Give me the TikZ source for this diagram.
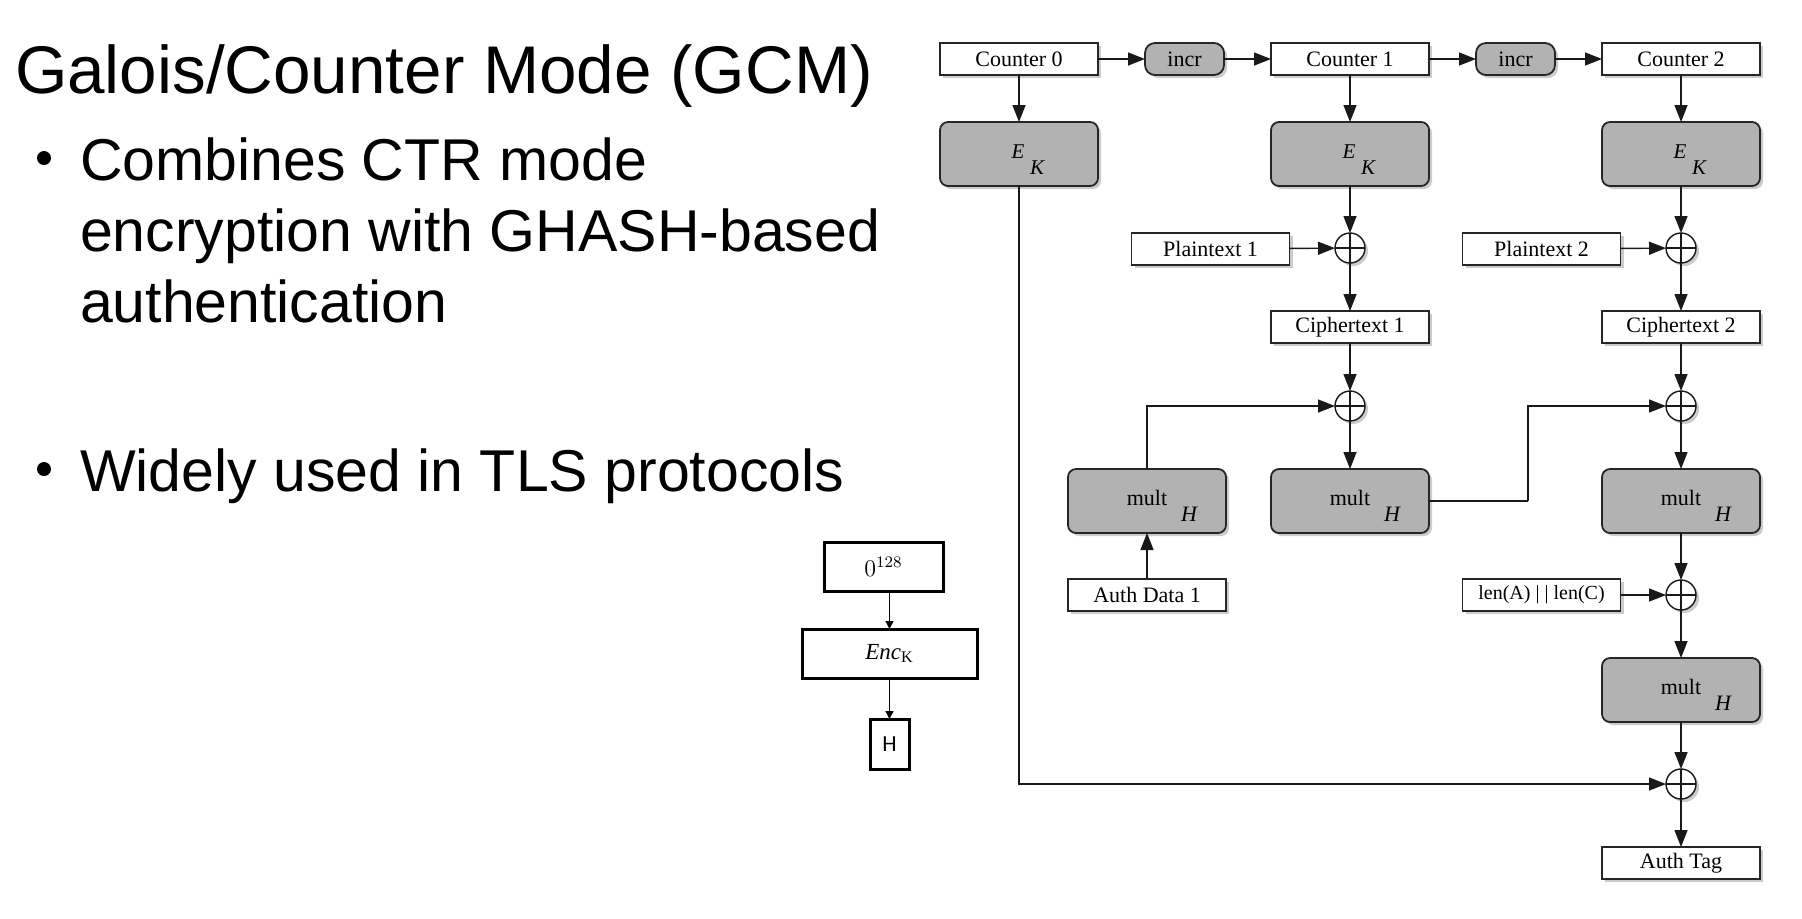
\documentclass[tikz,border=0pt]{standalone}
\usepackage{fontspec}
\setmainfont{Liberation Serif}
\newfontfamily\arialfont{Liberation Sans}
\newfontfamily\calfont{Carlito}
\usetikzlibrary{arrows.meta,shadows,calc}
\begin{document}
\begin{tikzpicture}[x=0.5pt,y=-0.5pt,
  every node/.style={inner sep=0pt, outer sep=0pt},
  shad/.style={drop shadow={shadow xshift=1.5pt, shadow yshift=-1.5pt, fill=black!45, opacity=0.45}},
  wbox/.style={draw=black!85, line width=0.9pt, fill=white, minimum width=79pt, minimum height=16pt, font=\fontsize{11}{13}\selectfont, shad},
  gbox/.style={draw=black!85, line width=0.9pt, fill=black!30, rounded corners=4pt, minimum width=79pt, minimum height=32pt, shad},
  incrbox/.style={draw=black!85, line width=0.9pt, fill=black!30, rounded corners=5pt, minimum width=39.5pt, minimum height=16pt, font=\fontsize{11}{13}\selectfont, shad},
  xorn/.style={circle, draw=black!90, line width=0.7pt, fill=white, minimum size=15pt, shad,
    path picture={\draw[line width=0.7pt] (path picture bounding box.north) -- (path picture bounding box.south)
      (path picture bounding box.west) -- (path picture bounding box.east);}},
  lbl/.style={font=\fontsize{10.5}{12}\selectfont\itshape},
  mlbl/.style={font=\fontsize{11}{13}\selectfont},
  arr/.style={line width=0.7pt, draw=black!90, -{Triangle[length=8.5pt,width=6.5pt]}},
  ln/.style={line width=0.7pt, draw=black!90},
  kbox/.style={draw=black, line width=1.5pt, fill=white},
  karr/.style={line width=0.6pt, -{Triangle[length=4pt,width=4pt]}},
  bdot/.style={circle, fill=black, minimum size=7pt},
  title/.style={font=\arialfont\fontsize{33.7}{40}\selectfont, anchor=base west},
  btext/.style={font=\arialfont\fontsize{29.5}{35}\selectfont, anchor=base west}
]
\useasboundingbox (0,0) rectangle (1802,918);

% ---- left text ----
\node[title] (ttl) at (15,93) {Galois/Counter Mode (GCM)};
\node[bdot] (b1) at (44,158) {};
\node[btext] (t1) at (80,180) {Combines CTR mode};
\node[btext] (t2) at (80,251) {encryption with GHASH-based};
\node[btext] (t3) at (80,322) {authentication};
\node[bdot] (b2) at (44,469) {};
\node[btext] (t4) at (80,491) {Widely used in TLS protocols};

% ---- small H diagram ----
\node[kbox, minimum width=59.5pt, minimum height=24.5pt, font=\fontsize{11.5}{13}\selectfont] (zero) at (883.5,566.5) {$0^{128}$};
\node[kbox, minimum width=87.5pt, minimum height=24.5pt, font=\fontsize{11.5}{13}\selectfont] (enc) at (889.5,653.5) {$\mathit{Enc}_{\mathrm{K}}$};
\node[kbox, minimum width=19.5pt, minimum height=25pt, font=\calfont\fontsize{11.5}{13}\selectfont] (hbox) at (889.5,744) {H};
\draw[karr] (zero.south -| enc.north) -- (enc.north);
\draw[karr] (enc.south) -- (hbox.north);

% ---- GCM diagram ----
\node[wbox] (c0) at (1019,59) {Counter 0};
\node[incrbox] (i1) at (1184.5,59) {incr};
\node[wbox] (c1) at (1350,59) {Counter 1};
\node[incrbox] (i2) at (1515.5,59) {incr};
\node[wbox] (c2) at (1681,59) {Counter 2};

\foreach \n/\x in {ek0/1019, ek1/1350, ek2/1681}{
  \node[gbox] (\n) at (\x,154) {};
  \node[lbl] (\n E) at ($(\n)+(-1,-2)$) {E};
  \node[lbl] (\n K) at ($(\n)+(18,14)$) {K};
}

\node[xorn] (x1) at (1350,248) {};
\node[xorn] (x2) at (1681,248) {};
\node[wbox] (pt1) at (1210.5,249) {Plaintext 1};
\node[wbox] (pt2) at (1541.5,249) {Plaintext 2};
\node[wbox] (ct1) at (1350,327) {Ciphertext 1};
\node[wbox] (ct2) at (1681,327) {Ciphertext 2};
\node[xorn] (x3) at (1350,406) {};
\node[xorn] (x4) at (1681,406) {};

\foreach \n/\x/\y in {mA/1147/501, mB/1350/501, mC/1681/501, mD/1681/690}{
  \node[gbox] (\n) at (\x,\y) {};
  \node[mlbl] (\n t) at ($(\n)+(0,-3)$) {mult};
  \node[lbl, font=\fontsize{11}{13}\selectfont\itshape] (\n H) at ($(\n)+(42,13)$) {H};
}

\node[wbox] (ad1) at (1147,595) {Auth Data 1};
\node[wbox, font=\fontsize{10}{12}\selectfont] (len) at (1541.5,595) {len(A) | | len(C)};
\node[xorn] (x5) at (1681,595) {};
\node[xorn] (x6) at (1681,784) {};
\node[wbox] (tag) at (1681,863) {Auth Tag};
\coordinate (bend) at (1528,501);

% connectors
\draw[arr] (c0) -- (i1);
\draw[arr] (i1) -- (c1);
\draw[arr] (c1) -- (i2);
\draw[arr] (i2) -- (c2);
\draw[arr] (c0) -- (ek0);
\draw[arr] (c1) -- (ek1);
\draw[arr] (c2) -- (ek2);
\draw[arr] (ek1) -- (x1);
\draw[arr] (ek2) -- (x2);
\draw[arr] (pt1) -- (x1);
\draw[arr] (pt2) -- (x2);
\draw[arr] (x1) -- (ct1);
\draw[arr] (x2) -- (ct2);
\draw[arr] (ct1) -- (x3);
\draw[arr] (ct2) -- (x4);
\draw[arr] (mA.north) |- (x3.west);
\draw[arr] (x3) -- (mB);
\draw[arr] (x4) -- (mC);
\draw[arr] (ad1) -- (mA);
\draw[ln] (mB.east) -- (bend);
\draw[arr] (bend) |- (x4.west);
\draw[arr] (mC) -- (x5);
\draw[arr] (len) -- (x5);
\draw[arr] (x5) -- (mD);
\draw[arr] (mD) -- (x6);
\draw[arr] (x6) -- (tag);
\draw[arr] (ek0.south) |- (x6.west);
\end{tikzpicture}
\end{document}
